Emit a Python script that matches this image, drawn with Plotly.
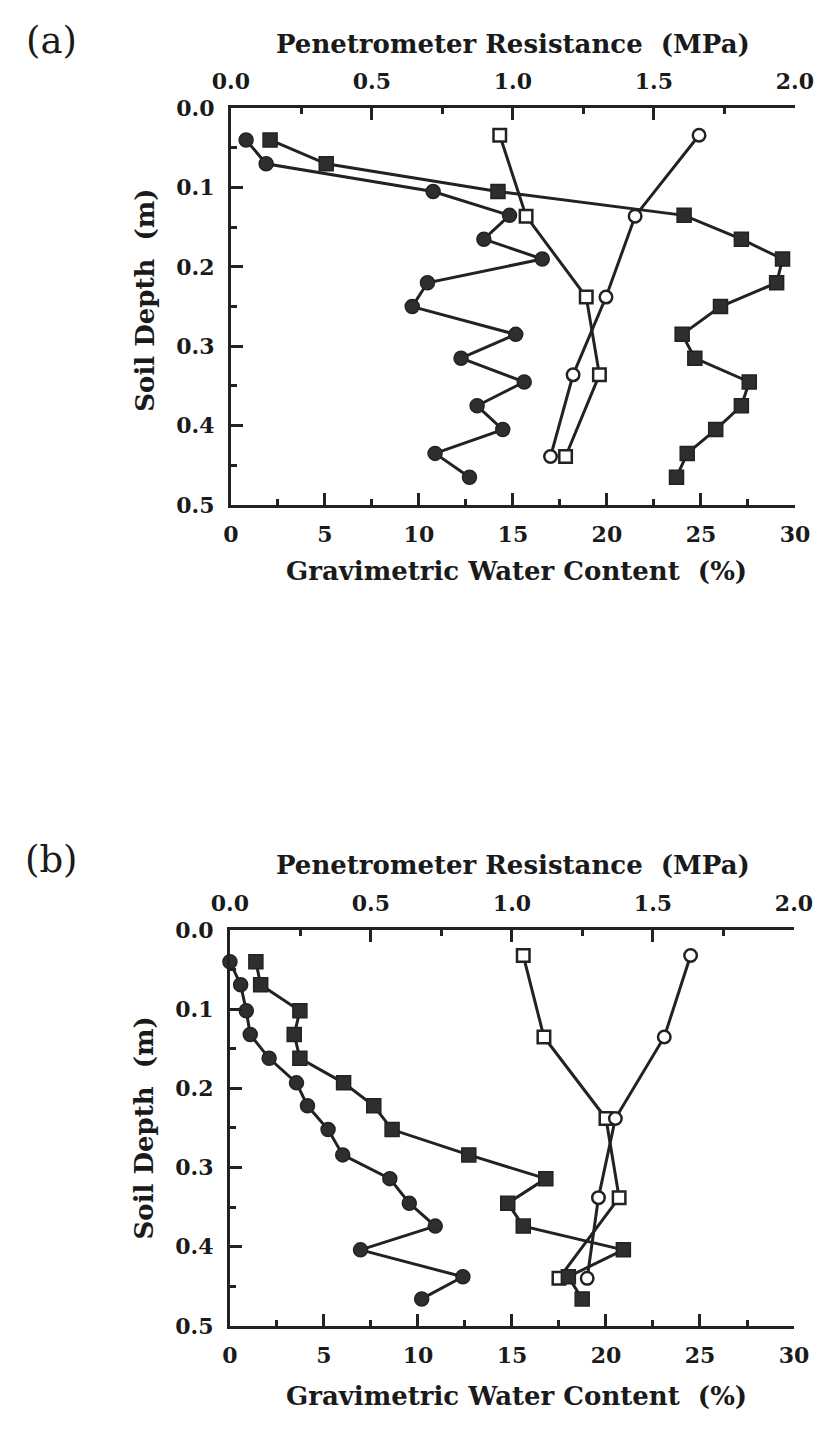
import plotly.graph_objects as go

W, H = 834, 1439

# ---- panel (a) ----
a_pr_depth = [0.04, 0.07, 0.105, 0.135, 0.165, 0.19, 0.22, 0.25, 0.285, 0.315, 0.345, 0.375, 0.405, 0.435, 0.465]
a_pr_circle = [0.054, 0.125, 0.717, 0.988, 0.897, 1.104, 0.697, 0.643, 1.01, 0.816, 1.04, 0.873, 0.964, 0.724, 0.846]
a_pr_square = [0.139, 0.338, 0.947, 1.607, 1.81, 1.956, 1.935, 1.736, 1.60, 1.645, 1.838, 1.81, 1.719, 1.618, 1.58]
a_wc_depth = [0.034, 0.136, 0.238, 0.336, 0.439]
a_wc_square = [14.3, 15.7, 18.9, 19.6, 17.8]
a_wc_circle = [24.9, 21.5, 19.95, 18.2, 17.0]

# ---- panel (b) ----
b_pr_depth = [0.04, 0.069, 0.102, 0.132, 0.162, 0.193, 0.222, 0.252, 0.284, 0.314, 0.345, 0.374, 0.404, 0.438, 0.466]
b_pr_circle = [0.0, 0.038, 0.058, 0.072, 0.139, 0.236, 0.275, 0.348, 0.40, 0.567, 0.636, 0.728, 0.463, 0.826, 0.68]
b_pr_square = [0.092, 0.109, 0.248, 0.228, 0.248, 0.403, 0.51, 0.575, 0.847, 1.12, 0.985, 1.04, 1.395, 1.20, 1.249]
b_wc_depth = [0.032, 0.135, 0.238, 0.338, 0.44]
b_wc_square = [15.6, 16.7, 20.0, 20.7, 17.5]
b_wc_circle = [24.5, 23.1, 20.5, 19.6, 19.0]

wc_ticks = [0, 5, 10, 15, 20, 25, 30]
pr_ticks = [0.0, 0.5, 1.0, 1.5, 2.0]
depth_ticks = [0.0, 0.1, 0.2, 0.3, 0.4, 0.5]

INK = "#222222"
FILL = "#2e2e2e"
FONT = "DejaVu Serif"

fig = go.Figure()


def add_series(x, y, xa, ya, symbol, filled):
    fig.add_trace(go.Scatter(
        x=x, y=y, xaxis=xa, yaxis=ya, mode="lines+markers",
        cliponaxis=False, showlegend=False,
        line=dict(color=INK, width=3),
        marker=dict(symbol=symbol, size=14 if filled else 12.5,
                    color=FILL if filled else "white",
                    line=dict(color=INK, width=1.5 if filled else 2.5)),
    ))


# panel (a): filled symbols on the top (MPa) axis, open symbols on the bottom (%) axis
add_series(a_pr_circle, a_pr_depth, "x2", "y", "circle", True)
add_series(a_pr_square, a_pr_depth, "x2", "y", "square", True)
add_series(a_wc_square, a_wc_depth, "x", "y", "square", False)
add_series(a_wc_circle, a_wc_depth, "x", "y", "circle", False)

# panel (b)
add_series(b_pr_circle, b_pr_depth, "x4", "y2", "circle", True)
add_series(b_pr_square, b_pr_depth, "x4", "y2", "square", True)
add_series(b_wc_square, b_wc_depth, "x3", "y2", "square", False)
add_series(b_wc_circle, b_wc_depth, "x3", "y2", "circle", False)

tickfont = dict(family=FONT, size=22, color="#1a1a1a", weight="bold")


def ax_common(rng, ticks, minor, fmt):
    return dict(
        range=rng, tickmode="array", tickvals=ticks,
        ticktext=[fmt.format(t) for t in ticks],
        showline=True, linecolor=INK, linewidth=3,
        ticks="inside", ticklen=12, tickwidth=2.5, tickcolor=INK,
        minor=dict(ticks="inside", ticklen=6, tickwidth=2.5, tickcolor=INK, dtick=minor, tick0=0),
        showgrid=False, zeroline=False, tickfont=tickfont,
    )


def px_x(v):
    return v / W


def px_y(v):
    return 1 - v / H


panels = [
    # (bottom x axis, top x axis, y axis, x id, y id, left px, right px, top px, bottom px)
    ("xaxis", "xaxis2", "yaxis", "x", "y", 222, 813, 97, 501),
    ("xaxis3", "xaxis4", "yaxis2", "x3", "y2", 221, 812, 934, 1337),
]

layout = dict(
    width=W, height=H, margin=dict(l=0, r=0, t=0, b=0),
    paper_bgcolor="white", plot_bgcolor="white",
    font=dict(family=FONT, color="#1a1a1a"),
)

for xb, xt, ya, xb_id, ya_id, l, r, t, b in panels:
    layout[xb] = dict(ax_common([0, 30], wc_ticks, 2.5, "{:d}"),
                      domain=[px_x(l), px_x(r)], anchor=ya_id, side="bottom",
                      ticklabelstandoff=8)
    layout[xt] = dict(ax_common([0, 2.0], pr_ticks, 0.25, "{:.1f}"),
                      overlaying=xb_id, anchor=ya_id, side="top",
                      ticklabelstandoff=7)
    layout[ya] = dict(ax_common([0.5, 0.0], depth_ticks, 0.05, "{:.1f}"),
                      domain=[px_y(b), px_y(t)], anchor=xb_id,
                      ticklabelstandoff=9)

fig.update_layout(**layout)

titlefont = dict(family=FONT, size=26, color="#1a1a1a", weight="bold")
labelfont = dict(family=FONT, size=37, color="#1a1a1a")
NB = "\u00a0"

annotations = []
for tag, ty, by, sy, ly in [("(a)", 32, 568, 292, 28), ("(b)", 868, 1408, 1135, 862)]:
    annotations += [
        dict(text=tag, x=px_x(34), y=px_y(ly), font=labelfont),
        dict(text="Penetrometer Resistance" + NB + NB + "(MPa)", x=px_x(518), y=px_y(ty), font=titlefont),
        dict(text="Gravimetric Water Content" + NB + NB + "(%)", x=px_x(521), y=px_y(by), font=titlefont),
        dict(text="Soil Depth" + NB + NB + "(m)", x=px_x(132), y=px_y(sy), font=titlefont, textangle=-90),
    ]
for a in annotations:
    a.update(xref="paper", yref="paper", showarrow=False, xanchor="center", yanchor="middle")
fig.update_layout(annotations=annotations)

fig.write_html("out.html")
